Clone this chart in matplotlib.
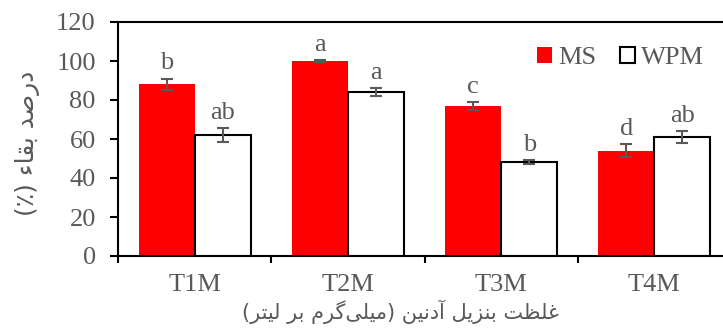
import matplotlib
matplotlib.use('Agg')
import matplotlib.pyplot as plt
from matplotlib.patches import Patch
import numpy as np

# data
treatments = ['T1M', 'T2M', 'T3M', 'T4M']
ms_vals = [88.0, 100.0, 77.0, 54.0]
ms_err = [3.0, 0.3, 2.0, 3.4]
wpm_vals = [62.0, 84.0, 48.0, 61.0]
wpm_err = [3.6, 2.0, 1.0, 3.2]
ms_letters = ['b', 'a', 'c', 'd']
wpm_letters = ['ab', 'a', 'b', 'ab']

ylabel_fa = 'درصد بقاء (٪)'
xlabel_fa = 'غلظت بنزیل آدنین (میلی\u200cگرم بر لیتر)'

# matplotlib has no arabic shaping, so do it by hand
# (isolated, final, initial, medial)
FORMS = {
    'ا': ('\uFE8D', '\uFE8E', None, None),
    'آ': ('\uFE81', '\uFE82', None, None),
    'د': ('\uFEA9', '\uFEAA', None, None),
    'ر': ('\uFEAD', '\uFEAE', None, None),
    'ز': ('\uFEAF', '\uFEB0', None, None),
    'ء': ('\uFE80', None, None, None),
    'ب': ('\uFE8F', '\uFE90', '\uFE91', '\uFE92'),
    'ت': ('\uFE95', '\uFE96', '\uFE97', '\uFE98'),
    'ص': ('\uFEB9', '\uFEBA', '\uFEBB', '\uFEBC'),
    'ظ': ('\uFEC5', '\uFEC6', '\uFEC7', '\uFEC8'),
    'غ': ('\uFECD', '\uFECE', '\uFECF', '\uFED0'),
    'ق': ('\uFED5', '\uFED6', '\uFED7', '\uFED8'),
    'ل': ('\uFEDD', '\uFEDE', '\uFEDF', '\uFEE0'),
    'م': ('\uFEE1', '\uFEE2', '\uFEE3', '\uFEE4'),
    'ن': ('\uFEE5', '\uFEE6', '\uFEE7', '\uFEE8'),
    'ی': ('\uFBFC', '\uFBFD', '\uFBFE', '\uFBFF'),
    'گ': ('\uFB92', '\uFB93', '\uFB94', '\uFB95'),
}


def rtl(text):
    out = []
    n = len(text)
    for i, c in enumerate(text):
        if c == '\u200c':
            continue
        if c not in FORMS:
            out.append(c)
            continue
        f = FORMS[c]
        prev = text[i-1] if i > 0 else ''
        nxt = text[i+1] if i < n-1 else ''
        jp = f[1] is not None and prev in FORMS and FORMS[prev][2] is not None
        jn = f[2] is not None and nxt in FORMS and FORMS[nxt][1] is not None
        if jp and jn:
            out.append(f[3])
        elif jp:
            out.append(f[1])
        elif jn:
            out.append(f[2])
        else:
            out.append(f[0])
    vis = ''.join(reversed(out))
    return vis.translate(str.maketrans('()', ')('))


plt.rcParams['font.family'] = ['Liberation Serif', 'DejaVu Sans']
gray = '#595959'
fs = 19

fig = plt.figure(figsize=(7.23, 3.31), dpi=100)
ax = fig.add_axes([118/723, 75/331, 613/723, 234/331])

x = np.arange(len(treatments)) + 0.5
w = 0.366
ax.bar(x - w/2, ms_vals, w, color='#ff0000', edgecolor='none', zorder=2)
ax.bar(x + w/2, wpm_vals, w, color='white', edgecolor='black', linewidth=1.5, zorder=2)
ax.errorbar(x - w/2, ms_vals, yerr=ms_err, fmt='none', ecolor=gray, elinewidth=1.5,
            capsize=4.5, capthick=1.5, zorder=3)
ax.errorbar(x + w/2, wpm_vals, yerr=wpm_err, fmt='none', ecolor=gray, elinewidth=1.5,
            capsize=4.5, capthick=1.5, zorder=3)

for xi, v, e, t in zip(x - w/2, ms_vals, ms_err, ms_letters):
    ax.annotate(t, (xi, v + e), xytext=(0, 3), textcoords='offset points',
                ha='center', va='bottom', fontsize=fs, color=gray, annotation_clip=False)
for xi, v, e, t in zip(x + w/2, wpm_vals, wpm_err, wpm_letters):
    ax.annotate(t, (xi, v + e), xytext=(0, 3), textcoords='offset points',
                ha='center', va='bottom', fontsize=fs, color=gray, annotation_clip=False)

ax.set_xlim(0, 4)
ax.set_ylim(0, 120)
ax.set_yticks(range(0, 121, 20))
ax.set_xticks(x)
ax.set_xticklabels(treatments)
ax.set_xticks(range(0, 5), minor=True)
ax.tick_params(axis='x', which='major', length=0, pad=13, labelsize=fs, labelcolor=gray)
ax.tick_params(axis='x', which='minor', length=5, width=1.5, direction='out')
ax.tick_params(axis='y', length=6, width=1.5, direction='out', pad=10, labelsize=fs,
               labelcolor=gray)

for s in ['left', 'bottom', 'top']:
    ax.spines[s].set_linewidth(1.5)
ax.spines['right'].set_visible(False)

fig.text(28/723, 1 - 143/331, rtl(ylabel_fa), rotation=90, ha='center', va='center',
         fontsize=18, color=gray, family='DejaVu Sans')
fig.text(400/723, 1 - 312/331, rtl(xlabel_fa), ha='center', va='center',
         fontsize=15, color=gray, family='DejaVu Sans')

handles = [Patch(facecolor='#ff0000', edgecolor='none', label='MS'),
           Patch(facecolor='white', edgecolor='black', linewidth=1.5, label='WPM')]
fig.legend(handles=handles, loc='center left', bbox_to_anchor=(537/723, 1 - 58/331),
           ncol=2, frameon=False, fontsize=fs, handlelength=0.55, handleheight=0.55,
           handletextpad=0.25, columnspacing=0.9, labelcolor=gray, borderpad=0,
           borderaxespad=0)

fig.savefig('out.png', dpi=100)
